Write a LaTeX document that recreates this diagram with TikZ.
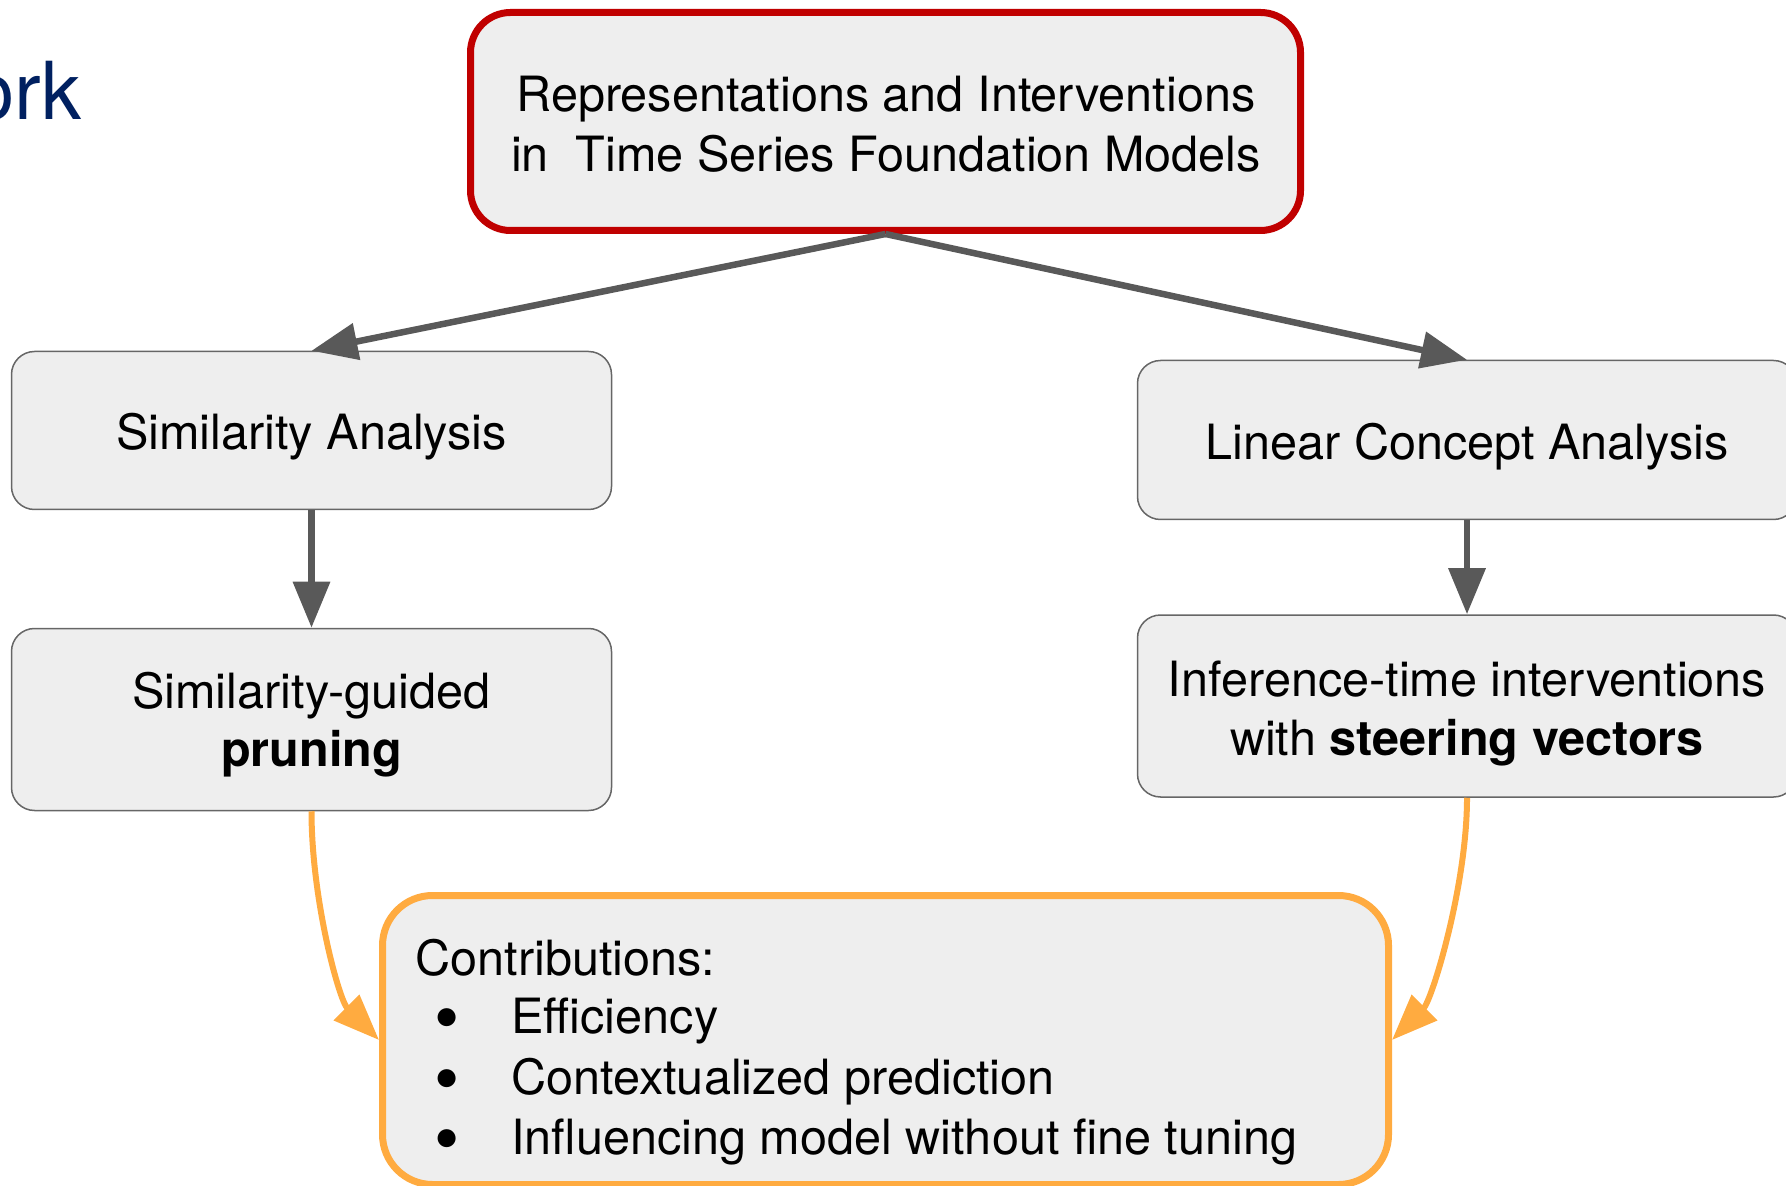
\documentclass[tikz,border=0pt]{standalone}
\usepackage{fontspec}
\setmainfont{TeX Gyre Heros}
\usetikzlibrary{arrows.meta}
\definecolor{boxfill}{HTML}{EEEEEE}
\definecolor{boxline}{HTML}{666666}
\definecolor{topred}{HTML}{C00000}
\definecolor{contriborange}{HTML}{FFAB40}
\definecolor{arrowgray}{HTML}{595959}
\definecolor{titlenavy}{HTML}{002060}
\begin{document}
\begin{tikzpicture}[x=0.5pt,y=-0.5pt,
  box/.style={draw=boxline, line width=0.75pt, fill=boxfill, rounded corners=11.5pt, inner sep=0pt},
  bigbox/.style={line width=3.5pt, fill=boxfill, inner sep=0pt},
  txt/.style={inner sep=0pt, anchor=base, font=\fontsize{24.3}{30}\selectfont},
  ltxt/.style={txt, anchor=base west},
  bul/.style={inner sep=0pt, anchor=center, font=\fontsize{36}{36}\selectfont},
  grayarrow/.style={draw=arrowgray, line width=3.25pt, -{Triangle[length=23pt,width=18pt]}},
  orangearrow/.style={draw=contriborange, line width=3pt, -{Triangle[length=23pt,width=17.5pt]}}]
\useasboundingbox (0,0) rectangle (1786,1186);

% title fragment
\node[inner sep=0pt, anchor=base east, text=titlenavy, font=\fontsize{40}{48}\selectfont] (title) at (82,120) {ork};

% boxes
\node[bigbox, draw=topred, rounded corners=20pt, minimum width=415pt, minimum height=109pt] (top) at (885.5,121.5) {};
\node[box, minimum width=300pt, minimum height=79pt] (sim) at (311.5,430.5) {};
\node[box, minimum width=300pt, minimum height=91pt] (prune) at (311.5,719.5) {};
\node[box, minimum width=329.5pt, minimum height=79.5pt] (lin) at (1467,440) {};
\node[box, minimum width=329.5pt, minimum height=91pt] (inf) at (1467,706) {};
\node[bigbox, draw=contriborange, rounded corners=25pt, minimum width=503pt, minimum height=144.5pt] (contrib) at (885.5,1040) {};

% texts
\node[txt] (top1) at (886,112) {Representations and Interventions};
\node[txt] (top2) at (886,172) {in\ \ Time Series Foundation Models};
\node[txt] (simt) at (311.5,450) {Similarity Analysis};
\node[txt] (pr1) at (311.5,708) {Similarity-guided};
\node[txt] (pr2) at (311.5,766) {\textbf{pruning}};
\node[txt] (lint) at (1467,460) {Linear Concept Analysis};
\node[txt] (inf1) at (1467,696) {Inference-time interventions};
\node[txt] (inf2) at (1467,755) {with \textbf{steering vectors}};
\node[ltxt] (ct) at (415,975) {Contributions:};
\node[bul] (b1) at (447,1026) {\textbullet};
\node[bul] (b2) at (447,1087) {\textbullet};
\node[bul] (b3) at (447,1147) {\textbullet};
\node[ltxt] (i1) at (511,1033) {Efficiency};
\node[ltxt] (i2) at (511,1094) {Contextualized prediction};
\node[ltxt] (i3) at (511,1154) {Influencing model without fine tuning};

% connectors
\draw[grayarrow] (top.south) -- (sim.north);
\draw[grayarrow] (top.south) -- (lin.north);
\draw[grayarrow] (sim.south) -- (prune.north);
\draw[grayarrow] (lin.south) -- (inf.north);
\draw[orangearrow] (prune.south) .. controls +(0,88) and +(-40,-40) .. (contrib.west);
\draw[orangearrow] (inf.south) .. controls +(0,88) and +(40,-40) .. (contrib.east);
\end{tikzpicture}
\end{document}
